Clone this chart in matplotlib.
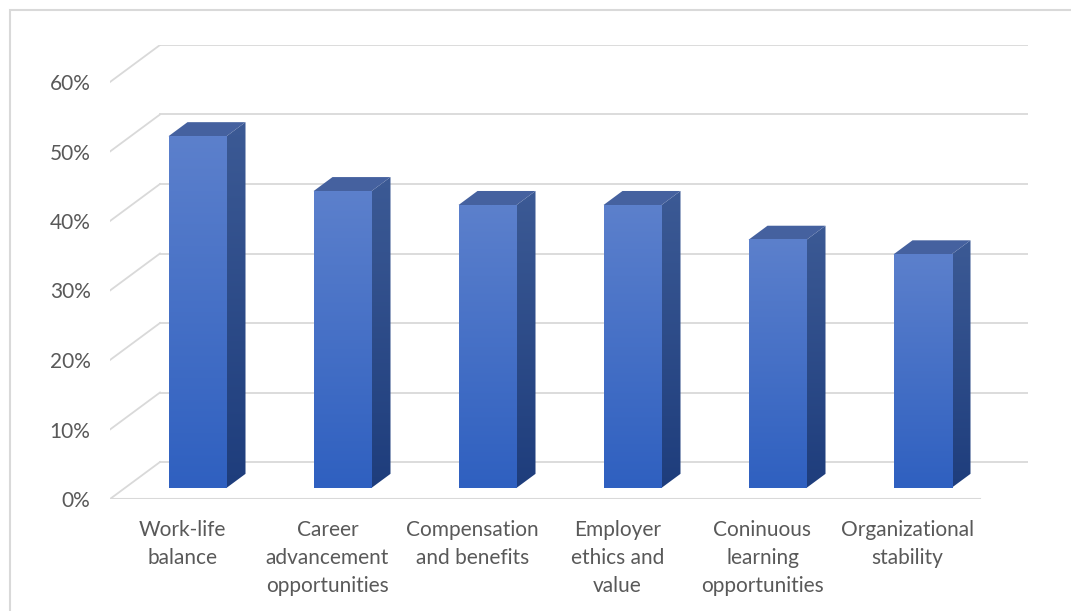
import numpy as np
import matplotlib
matplotlib.use('Agg')
import matplotlib.pyplot as plt
from matplotlib.patches import Polygon, Rectangle
from matplotlib.colors import LinearSegmentedColormap
from matplotlib.ticker import FuncFormatter

# Data
categories = [
    "Work-life\nbalance",
    "Career\nadvancement\nopportunities",
    "Compensation\nand benefits",
    "Employer\nethics and\nvalue",
    "Coninuous\nlearning\nopportunities",
    "Organizational\nstability",
]
values = [0.506, 0.427, 0.407, 0.407, 0.357, 0.336]
y_ticks = [0.0, 0.1, 0.2, 0.3, 0.4, 0.5, 0.6]

W, H = 1071, 611
fig = plt.figure(figsize=(W / 100, H / 100), dpi=100)
plt.rcParams['font.family'] = ['Lato', 'DejaVu Sans']

# pixel geometry of the plot box (front plane origin / back wall)
left_px, right_px = 110, 1028
bottom_px, top_px = 499, 45
cat_px = 145.0
val_px = 695.0
DX = 50 / cat_px      # depth offset in category units
DY = 37 / val_px      # depth offset in value units

ax = fig.add_axes([left_px / W, (H - bottom_px) / H,
                   (right_px - left_px) / W, (bottom_px - top_px) / H])
for s in ax.spines.values():
    s.set_visible(False)

grid_c = '#D9D9D9'
n = len(categories)
# gridlines: left wall diagonal + back wall
for v in y_ticks:
    ax.plot([-0.5, -0.5 + DX], [v, v + DY], color=grid_c, lw=1.3, zorder=1)
    ax.plot([-0.5 + DX, n - 0.5 + DX], [v + DY, v + DY], color=grid_c, lw=1.3, zorder=1)
# floor front edge
ax.plot([-0.5, n - 0.5], [0, 0], color=grid_c, lw=1.5, zorder=1)

front_cmap = LinearSegmentedColormap.from_list('front', ['#2F60C0', '#5C80CC'])
side_cmap = LinearSegmentedColormap.from_list('side', ['#1E3D7C', '#3C5A95'])
grad = np.linspace(0, 1, 256).reshape(-1, 1)

bw = 0.4
d0, d1 = 0.3, 0.68
for i, v in enumerate(values):
    x0 = i - bw / 2 + d0 * DX
    x1 = x0 + bw
    y0 = d0 * DY
    y1 = y0 + v
    ox, oy = (d1 - d0) * DX, (d1 - d0) * DY
    # side face
    side = Polygon([(x1, y0), (x1 + ox, y0 + oy), (x1 + ox, y1 + oy), (x1, y1)],
                   closed=True, facecolor='none', edgecolor='none', zorder=3)
    ax.add_patch(side)
    im = ax.imshow(grad, cmap=side_cmap, origin='lower', aspect='auto',
                   extent=[x1, x1 + ox, y0, y1 + oy], zorder=3)
    im.set_clip_path(side)
    # top face
    ax.add_patch(Polygon([(x0, y1), (x1, y1), (x1 + ox, y1 + oy), (x0 + ox, y1 + oy)],
                         closed=True, facecolor='#45619F', edgecolor='none', zorder=4))
    # front face
    ax.imshow(grad, cmap=front_cmap, origin='lower', aspect='auto',
              extent=[x0, x1, y0, y1], zorder=5)

ax.set_xlim(-0.5, -0.5 + (right_px - left_px) / cat_px)
ax.set_ylim(0, (bottom_px - top_px) / val_px)

ax.set_yticks(y_ticks)
ax.yaxis.set_major_formatter(FuncFormatter(lambda v, p: f"{v * 100:.0f}%"))
ax.set_xticks(range(n))
ax.set_xticklabels(categories, linespacing=1.5)
ax.tick_params(axis='both', length=0, labelsize=15, labelcolor='#595959')
ax.tick_params(axis='y', pad=14)
ax.tick_params(axis='x', pad=15)

# outer chart border
fig.patches.append(Rectangle((10 / W, -0.1), 1.2, (H - 10) / H + 0.1,
                             transform=fig.transFigure, fill=False,
                             edgecolor='#D9D9D9', lw=1.5))

fig.savefig('out.png', dpi=100)
